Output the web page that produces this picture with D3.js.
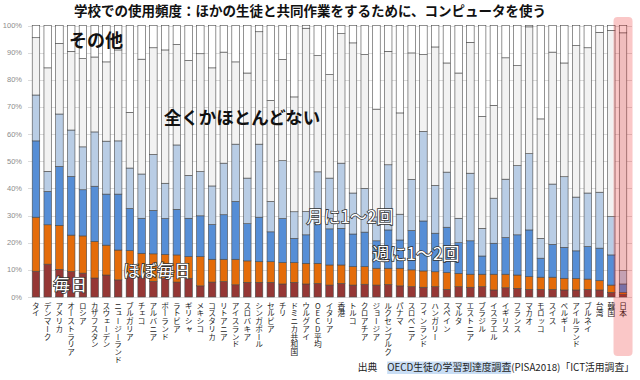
<!DOCTYPE html>
<html>
<head>
<meta charset="utf-8">
<script src="https://cdn.jsdelivr.net/npm/d3@7"></script>
<style>
body{margin:0;background:#fff;}
svg{display:block;font-family:"Noto Sans CJK JP","Noto Sans",sans-serif;}
</style>
</head>
<body>
<svg width="640" height="380"></svg>
<script>
var countries = ['タイ','デンマーク','アメリカ','オーストラリア','ロシア','カザフスタン','スウェーデン','ニュージーランド','ブルガリア','チェコ',
  'アルバニア','ポーランド','ラトビア','ギリシャ','メキシコ','コスタリカ','リトアニア','アイスランド','スロバキア','シンガポール',
  'セルビア','チリ','ドミニカ共和国','ウルグアイ','OECD平均','イタリア','香港','トルコ','クロアチア','ジョージア',
  'ルクセンブルク','パナマ','スロベニア','フィンランド','ハンガリー','スペイン','マルタ','エストニア','ブラジル','イスラエル',
  'イギリス','フランス','マカオ','モロッコ','スイス','ベルギー','アイルランド','ブルネイ','台湾','韓国','日本'];

// 毎日
var mainichi = [9.5,12.1,10.2,9.4,8.8,7.0,8.1,6.3,7.5,7.7, 5.8,6.9,5.5,6.9,4.1,5.5,5.7,4.5,5.4,5.4,
  5.4,4.8,5.4,4.8,5.0,4.4,5.0,4.4,4.7,4.4, 4.6,4.1,3.8,3.6,3.8,2.8,3.8,3.6,3.8,2.6, 3.4,3.2,2.8,2.8,2.8,2.6,2.6,2.8,2.6,1.7,1.0];
// ほぼ毎日
var hobo = [19.9,14.5,16.2,13.4,13.7,13.5,11.0,11.0,9.6,8.4, 10.1,8.8,10.0,8.0,10.8,8.4,8.2,9.4,7.9,7.6,
  7.6,7.9,7.3,7.6,7.4,7.4,6.8,6.8,6.5,6.2, 6.0,6.5,6.2,6.0,5.5,6.2,4.9,4.8,4.6,5.8, 5.0,4.9,4.7,4.5,4.5,4.3,4.2,3.8,3.4,2.7,0.7];
// 週に1〜2回
var shu = [28.1,12.3,21.7,21.6,17.0,20.3,18.8,20.6,15.5,12.9, 16.0,13.2,16.8,14.1,15.0,12.8,16.4,21.3,13.7,16.4,
  11.0,16.2,8.9,10.5,14.7,13.3,13.5,12.0,12.7,10.1, 14.1,10.4,14.5,18.4,14.2,16.7,11.3,12.3,6.7,11.4, 13.5,14.8,17.2,7.0,12.1,11.4,10.2,12.0,12.0,11.1,3.1];
// 月に1〜2回
var tsuki = [16.9,7.4,19.3,17.1,15.8,20.0,19.5,19.6,14.9,16.3, 20.6,13.0,23.7,15.8,16.3,14.2,19.0,21.1,16.8,26.9,
  11.2,21.3,9.8,8.6,19.0,18.7,24.0,15.1,16.1,8.8, 24.0,9.5,18.8,33.0,17.6,20.3,9.0,24.9,10.2,16.6, 21.5,25.5,28.1,7.3,22.2,26.0,19.8,19.7,20.6,14.1,4.9];
// 全くかほとんどない
var mattaku = [21.1,38.1,26.0,29.0,32.5,27.6,29.2,33.5,20.5,42.3, 39.3,49.1,37.0,42.3,43.4,43.5,40.9,30.3,38.7,41.4,
  37.2,37.3,42.3,67.5,42.8,38.1,47.7,55.3,49.3,39.7, 41.8,37.3,46.6,28.3,51.0,40.2,53.5,48.2,41.2,34.2, 44.7,36.8,46.7,44.0,48.6,41.9,55.8,53.5,58.9,68.6,87.6];
// その他
var sonota = [4.5,15.6,6.6,9.5,12.2,11.6,13.4,9.0,32.0,12.4, 8.2,9.0,7.0,12.9,10.4,15.6,9.8,13.4,17.5,2.3,
  27.6,12.5,26.3,1.0,11.1,18.1,3.0,6.4,10.7,30.8, 9.5,32.2,10.1,10.7,7.9,13.8,17.5,6.2,33.5,29.4, 11.9,14.8,0.5,34.4,9.8,13.8,7.4,8.2,2.5,1.8,2.7];

var seriesKeys = ['mainichi','hobo','shu','tsuki','mattaku','sonota'];
var seriesColors = ['#953735','#e46c0a','#568ed6','#b9cde5','#f2f2f2','#ffffff'];
var yTicks = [0,10,20,30,40,50,60,70,80,90,100];
var titleText = '学校での使用頻度：ほかの生徒と共同作業をするために、コンピュータを使う';

var svg = d3.select('svg');

var rows = countries.map(function(c, i){
  return {name: c, mainichi: mainichi[i], hobo: hobo[i], shu: shu[i], tsuki: tsuki[i], mattaku: mattaku[i], sonota: sonota[i]};
});

var x = d3.scaleBand().domain(countries).range([30.1, 628.9]).paddingInner(0.36).paddingOuter(0.18);
var y = d3.scaleLinear().domain([0, 100]).range([297, 25.5]);
var color = d3.scaleOrdinal().domain(seriesKeys).range(seriesColors);

// grid + y labels
svg.append('g').selectAll('line').data(yTicks).enter().append('line')
  .attr('x1', 28).attr('x2', 632)
  .attr('y1', function(d){ return Math.round(y(d)) + 0.5; })
  .attr('y2', function(d){ return Math.round(y(d)) + 0.5; })
  .attr('stroke', '#dcdcdc').attr('stroke-width', 1);

svg.append('g').selectAll('text').data(yTicks).enter().append('text')
  .attr('x', 22).attr('y', function(d){ return y(d) + 2.5; })
  .attr('text-anchor', 'end')
  .style('font-size', '7.5px').style('fill', '#8c8c8c').style('font-family', '"Liberation Sans", sans-serif')
  .text(function(d){ return d + '%'; });

// stacked bars
var stacked = d3.stack().keys(seriesKeys)(rows);
svg.append('g').selectAll('g').data(stacked).enter().append('g')
  .attr('fill', function(s){ return color(s.key); })
  .selectAll('rect').data(function(s){ return s; }).enter().append('rect')
  .attr('x', function(d){ return x(d.data.name); })
  .attr('y', function(d){ return y(d[1]); })
  .attr('width', x.bandwidth())
  .attr('height', function(d){ return y(d[0]) - y(d[1]); })
  .attr('stroke', '#4a4a4a').attr('stroke-width', 0.6);

// country labels, vertical
svg.append('g').selectAll('text').data(countries).enter().append('text')
  .attr('x', function(d){ return x(d) + x.bandwidth() / 2; })
  .attr('y', 302)
  .style('writing-mode', 'vertical-rl').style('text-orientation', 'upright')
  .style('font-size', '7.7px').style('fill', '#1a1a1a')
  .text(function(d){ return d; });

// labels inside plot
svg.append('text').attr('x', 96).attr('y', 47).attr('text-anchor', 'middle')
  .style('font-size', '18px').style('font-weight', 'bold').style('fill', '#111').text('その他');
svg.append('text').attr('x', 242).attr('y', 124).attr('text-anchor', 'middle')
  .style('font-size', '17.5px').style('font-weight', 'bold').style('fill', '#111').text('全くかほとんどない');

var outlined = [['毎日', 70, 291], ['ほぼ毎日', 157, 277], ['月に1〜2回', 350, 223], ['週に1〜2回', 416, 260]];
svg.append('g').selectAll('text').data(outlined).enter().append('text')
  .attr('x', function(d){ return d[1]; }).attr('y', function(d){ return d[2]; })
  .attr('text-anchor', 'middle')
  .style('font-size', '17px').style('fill', '#fff')
  .style('stroke', '#333').style('stroke-width', 1.6).style('paint-order', 'stroke')
  .text(function(d){ return d[0]; });

// Japan highlight
var jp = countries[countries.length - 1];
svg.append('rect')
  .attr('x', x(jp) + x.bandwidth() / 2 - 9.5).attr('y', 17)
  .attr('width', 19).attr('height', 339).attr('rx', 4)
  .attr('fill', 'rgba(235,20,20,0.24)');

// title
svg.append('text').attr('x', 310).attr('y', 15.5).attr('text-anchor', 'middle')
  .style('font-size', '13.5px').style('font-weight', 'bold').style('fill', '#111').text(titleText);

// source
var src = svg.append('g');
var srcText = src.append('text').attr('x', 634).attr('y', 371).attr('text-anchor', 'end')
  .style('font-size', '9.8px').style('fill', '#222')
  .text('出典　OECD生徒の学習到達度調査(PISA2018)「ICT活用調査」');
var n = srcText.node();
var sx = 634 - n.getComputedTextLength();
var hx = sx + n.getSubStringLength(0, 3);
var hw = n.getSubStringLength(3, 14);
src.insert('rect', 'text').attr('x', hx).attr('y', 361.5).attr('width', hw).attr('height', 12.5).attr('fill', '#c9def5');
</script>
</body>
</html>
